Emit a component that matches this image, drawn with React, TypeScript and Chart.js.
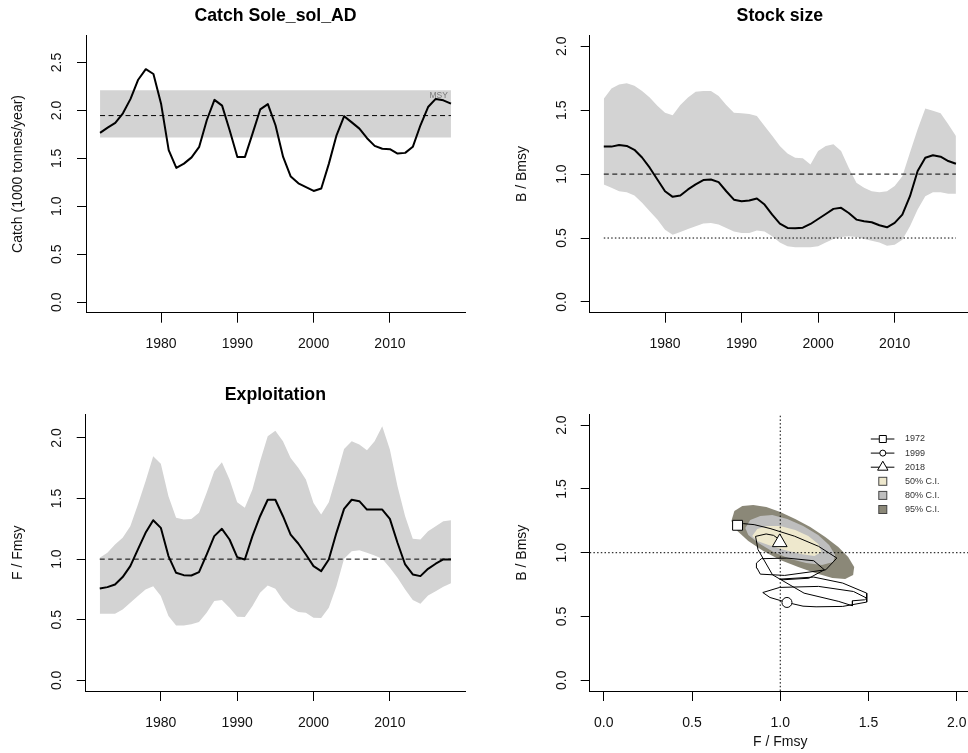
import { useEffect, useRef } from 'react';
import { Chart, registerables } from 'chart.js';

Chart.register(...registerables);

const FONT = "'Liberation Sans', Arial, Helvetica, sans-serif";
const INK = '#111';
const BAND = '#D3D3D3';

// ---- data ----
const years = [
  1972, 1973, 1974, 1975, 1976, 1977, 1978, 1979, 1980, 1981,
  1982, 1983, 1984, 1985, 1986, 1987, 1988, 1989, 1990, 1991,
  1992, 1993, 1994, 1995, 1996, 1997, 1998, 1999, 2000, 2001,
  2002, 2003, 2004, 2005, 2006, 2007, 2008, 2009, 2010, 2011,
  2012, 2013, 2014, 2015, 2016, 2017, 2018,
];

// catch, 1000 tonnes per year
const catchK = [
  1.766, 1.82, 1.87, 1.97, 2.12, 2.32, 2.43, 2.38, 2.07, 1.585,
  1.4, 1.445, 1.51, 1.62, 1.9, 2.11, 2.05, 1.79, 1.515, 1.515,
  1.76, 2.01, 2.065, 1.845, 1.515, 1.31, 1.24, 1.2, 1.16, 1.185,
  1.445, 1.74, 1.94, 1.875, 1.81, 1.71, 1.63, 1.6, 1.595, 1.55,
  1.557, 1.62, 1.845, 2.035, 2.12, 2.105, 2.07,
];
const msyCatch = 1.946;
const msyCatchLo = 1.717;
const msyCatchHi = 2.21;

// biomass relative to Bmsy
const bRel = [
  1.215, 1.215, 1.228, 1.22, 1.19, 1.13, 1.05, 0.958, 0.866, 0.822,
  0.832, 0.88, 0.919, 0.953, 0.958, 0.937, 0.866, 0.8, 0.788, 0.793,
  0.809, 0.762, 0.683, 0.613, 0.579, 0.576, 0.581, 0.61, 0.649, 0.688,
  0.728, 0.736, 0.696, 0.644, 0.631, 0.623, 0.6, 0.584, 0.618, 0.683,
  0.827, 1.024, 1.128, 1.147, 1.136, 1.102, 1.081,
];
const bRelHi = [
  1.59, 1.67, 1.7, 1.71, 1.69, 1.65, 1.6, 1.534, 1.48, 1.46,
  1.54, 1.6, 1.644, 1.65, 1.65, 1.61, 1.54, 1.48, 1.476, 1.47,
  1.455, 1.377, 1.3, 1.22, 1.162, 1.128, 1.123, 1.076, 1.18, 1.22,
  1.233, 1.18, 1.05, 0.932, 0.893, 0.866, 0.859, 0.866, 0.906, 0.984,
  1.168, 1.35, 1.513, 1.495, 1.476, 1.39, 1.298,
];
const bRelLo = [
  0.919, 0.893, 0.866, 0.859, 0.832, 0.775, 0.71, 0.644, 0.565, 0.526,
  0.547, 0.57, 0.592, 0.613, 0.618, 0.605, 0.579, 0.552, 0.539, 0.539,
  0.558, 0.552, 0.513, 0.466, 0.435, 0.427, 0.427, 0.427, 0.435, 0.466,
  0.492, 0.508, 0.513, 0.508, 0.492, 0.479, 0.466, 0.44, 0.448, 0.487,
  0.592, 0.723, 0.827, 0.859, 0.859, 0.846, 0.846,
];
const bTarget = 1.0;
const bLimit = 0.5;

// fishing mortality relative to Fmsy
const fRel = [
  0.758, 0.769, 0.791, 0.852, 0.942, 1.08, 1.217, 1.321, 1.258, 1.025,
  0.887, 0.868, 0.865, 0.893, 1.038, 1.19, 1.25, 1.162, 1.016, 0.997,
  1.19, 1.354, 1.49, 1.49, 1.354, 1.203, 1.129, 1.038, 0.942, 0.901,
  0.997, 1.217, 1.415, 1.49, 1.478, 1.409, 1.409, 1.409, 1.332, 1.135,
  0.956, 0.874, 0.86, 0.92, 0.962, 0.997, 0.997,
];
const fRelHi = [
  1.011, 1.052, 1.121, 1.176, 1.272, 1.45, 1.643, 1.849, 1.788, 1.519,
  1.341, 1.327, 1.332, 1.382, 1.547, 1.725, 1.8, 1.657, 1.47, 1.423,
  1.574, 1.808, 2.014, 2.06, 1.973, 1.835, 1.753, 1.657, 1.464, 1.368,
  1.47, 1.684, 1.909, 1.973, 1.945, 1.898, 1.973, 2.096, 1.904, 1.602,
  1.354, 1.168, 1.162, 1.231, 1.272, 1.313, 1.321,
];
const fRelLo = [
  0.549, 0.549, 0.549, 0.585, 0.64, 0.695, 0.75, 0.777, 0.695, 0.53,
  0.453, 0.453, 0.462, 0.481, 0.558, 0.654, 0.662, 0.599, 0.525, 0.522,
  0.613, 0.723, 0.783, 0.755, 0.662, 0.599, 0.563, 0.558, 0.516, 0.514,
  0.599, 0.777, 1.003, 1.066, 1.074, 1.052, 1.03, 1.003, 0.929, 0.846,
  0.75, 0.662, 0.632, 0.7, 0.736, 0.772, 0.8,
];
const fTarget = 1.0;

// kobe plot: highlighted year and confidence regions of the final year
const markYear = 1999;
const ci50F = [0.841, 0.87, 0.926, 1.0, 1.085, 1.159, 1.216, 1.233, 1.194, 1.115, 1.024, 0.933, 0.87];
const ci50B = [1.131, 1.186, 1.209, 1.209, 1.178, 1.131, 1.068, 1.005, 0.974, 0.99, 1.021, 1.06, 1.092];
const ci80F = [0.802, 0.83, 0.887, 0.955, 1.04, 1.13, 1.215, 1.277, 1.311, 1.3, 1.237, 1.147, 1.057, 0.961, 0.876, 0.819];
const ci80B = [1.194, 1.256, 1.288, 1.295, 1.264, 1.209, 1.139, 1.06, 0.982, 0.927, 0.904, 0.919, 0.95, 1.005, 1.076, 1.138];
const ci95F = [0.723, 0.74, 0.785, 0.847, 0.921, 1.0, 1.085, 1.17, 1.255, 1.329, 1.385, 1.419, 1.413, 1.368, 1.295, 1.198, 1.102, 1.0, 0.904, 0.819, 0.757];
const ci95B = [1.248, 1.327, 1.366, 1.374, 1.358, 1.319, 1.264, 1.201, 1.123, 1.045, 0.966, 0.888, 0.825, 0.794, 0.802, 0.841, 0.888, 0.943, 1.013, 1.092, 1.17];
const ciNames = ['50% C.I.', '80% C.I.', '95% C.I.'];
const ciColors = ['#EEE8CD', '#BEBEBE', '#8B8878'];

// axis ticks and ranges
const yearTicks = [1980, 1990, 2000, 2010];
const catchTicks = [0, 0.5, 1, 1.5, 2, 2.5];
const ratioTicks = [0, 0.5, 1, 1.5, 2];
const yearMin = 1970.16;
const yearMax = 2019.84;
const kobeFMin = -0.08;
const kobeFMax = 2.08;
const kobeBMin = -0.084;
const kobeBMax = 2.085;

// ---- helpers ----
const pts = (xs: number[], ys: number[]) => xs.map((x, i) => ({ x, y: ys[i] }));
const flat = (v: number) => [
  { x: years[0], y: v },
  { x: years[years.length - 1], y: v },
];
const ring = (xs: number[], ys: number[]) => {
  const p = pts(xs, ys);
  p.push({ ...p[0] });
  return p;
};

type AxisOpts = {
  min: number;
  max: number;
  ticks: number[];
  size: number;
  tickPad: number;
  digits: number;
  title?: string;
  titlePad?: number;
};

function axis(kind: 'x' | 'y', o: AxisOpts) {
  const isY = kind === 'y';
  return {
    type: 'linear',
    position: isY ? 'left' : 'bottom',
    min: o.min,
    max: o.max,
    afterBuildTicks: (s: any) => {
      s.ticks = o.ticks.map((v) => ({ value: v }));
    },
    afterFit: (s: any) => {
      if (isY) s.width = o.size;
      else s.height = o.size;
    },
    grid: {
      display: true,
      drawOnChartArea: false,
      drawTicks: true,
      tickLength: isY ? 9 : 10,
      tickColor: '#000',
      tickWidth: 1,
    },
    border: { display: true, color: '#000', width: 1 },
    ticks: {
      color: INK,
      font: { family: FONT, size: 14 },
      padding: o.tickPad,
      autoSkip: false,
      minRotation: isY ? 90 : 0,
      maxRotation: isY ? 90 : 0,
      crossAlign: isY ? 'center' : 'near',
      callback: (v: any) => (o.digits ? Number(v).toFixed(o.digits) : String(v)),
    },
    title: o.title
      ? {
          display: true,
          text: o.title,
          color: INK,
          font: { family: FONT, size: 14 },
          padding: { top: o.titlePad, bottom: o.titlePad },
        }
      : { display: false },
  };
}

function heading(text: string, top: number, bottom: number) {
  return {
    display: true,
    text,
    fullSize: false,
    color: '#000',
    font: { family: FONT, size: 17.7, weight: 'bold' },
    padding: { top, bottom },
  };
}

const lineBase = { pointRadius: 0, tension: 0, fill: false };
const medianLine = (data: any) => ({
  ...lineBase,
  data,
  borderColor: '#000',
  borderWidth: 2,
  borderJoinStyle: 'round',
  order: 0,
});
const refLine = (data: any, dash: number[], order: number) => ({
  ...lineBase,
  data,
  borderColor: '#000',
  borderWidth: 1,
  borderDash: dash,
  order,
});
const bandPair = (hi: any, lo: any) => [
  { ...lineBase, data: hi, borderWidth: 0, borderColor: 'rgba(0,0,0,0)', backgroundColor: BAND, fill: '+1', order: 5 },
  { ...lineBase, data: lo, borderWidth: 0, borderColor: 'rgba(0,0,0,0)', order: 6 },
];

const DASH = [5, 3.5];
const DOT = [1.5, 2.2];

// "MSY" tag written over the catch band, under the catch line
const msyTag = {
  id: 'msyTag',
  afterDatasetDraw(chart: any, args: any) {
    if (args.index !== 2) return;
    const { ctx, scales } = chart;
    ctx.save();
    ctx.font = `8.5px ${FONT}`;
    ctx.fillStyle = '#7a7a7a';
    ctx.textAlign = 'right';
    ctx.textBaseline = 'middle';
    ctx.fillText(
      'MSY',
      scales.x.getPixelForValue(years[years.length - 1]) - 3,
      scales.y.getPixelForValue(msyCatchHi) + 5,
    );
    ctx.restore();
  },
};

// key of the kobe plot
const kobeKey = {
  id: 'kobeKey',
  afterDraw(chart: any) {
    const { ctx, chartArea } = chart;
    const sx = chartArea.right - 88;
    const tx = sx + 22.3;
    const y0 = chartArea.top + 24.7;
    const dy = 14.1;
    const labels = [String(years[0]), String(markYear), String(years[years.length - 1]), ...ciNames];
    ctx.save();
    ctx.font = `9px ${FONT}`;
    ctx.textBaseline = 'middle';
    ctx.textAlign = 'left';
    labels.forEach((label, i) => {
      const yy = y0 + i * dy;
      ctx.lineWidth = 1;
      ctx.strokeStyle = '#000';
      if (i < 3) {
        ctx.beginPath();
        ctx.moveTo(sx - 12, yy);
        ctx.lineTo(sx + 11.6, yy);
        ctx.stroke();
        ctx.fillStyle = '#fff';
        ctx.beginPath();
        if (i === 0) {
          ctx.rect(sx - 3.5, yy - 3.5, 7, 7);
        } else if (i === 1) {
          ctx.arc(sx, yy, 3, 0, Math.PI * 2);
        } else {
          const r = 6;
          ctx.moveTo(sx, yy - r);
          ctx.lineTo(sx + r * 0.866, yy + r / 2);
          ctx.lineTo(sx - r * 0.866, yy + r / 2);
          ctx.closePath();
        }
        ctx.fill();
        ctx.stroke();
      } else {
        ctx.fillStyle = ciColors[i - 3];
        ctx.strokeStyle = '#444';
        ctx.fillRect(sx - 4, yy - 4, 8, 8);
        ctx.strokeRect(sx - 4, yy - 4, 8, 8);
      }
      ctx.fillStyle = '#333';
      ctx.fillText(label, tx, yy);
    });
    ctx.restore();
  },
};

const common = {
  type: 'line',
  options: {
    responsive: false,
    animation: false,
    events: [],
  },
};

function catchConfig(): any {
  return {
    ...common,
    data: {
      datasets: [
        medianLine(pts(years, catchK)),
        refLine(flat(msyCatch), DASH, 1),
        ...bandPair(flat(msyCatchHi), flat(msyCatchLo)),
      ],
    },
    options: {
      ...common.options,
      layout: { padding: { left: 0, right: 19, top: 0, bottom: 0 } },
      plugins: {
        legend: { display: false },
        tooltip: { enabled: false },
        title: heading('Catch Sole_sol_AD', 5.5, 8.5),
      },
      scales: {
        x: axis('x', { min: yearMin, max: yearMax, ticks: yearTicks, size: 63.3, tickPad: 12.9, digits: 0 }),
        y: axis('y', {
          min: -0.11, max: 2.784, ticks: catchTicks, size: 86, tickPad: 10.3, digits: 1,
          title: 'Catch (1000 tonnes/year)', titlePad: 9.5,
        }),
      },
    },
    plugins: [msyTag],
  };
}

function stockConfig(): any {
  return {
    ...common,
    data: {
      datasets: [
        medianLine(pts(years, bRel)),
        refLine(flat(bTarget), DASH, 1),
        refLine(flat(bLimit), DOT, 2),
        ...bandPair(pts(years, bRelHi), pts(years, bRelLo)),
      ],
    },
    options: {
      ...common.options,
      layout: { padding: { left: 0, right: 14, top: 0, bottom: 0 } },
      plugins: {
        legend: { display: false },
        tooltip: { enabled: false },
        title: heading('Stock size', 5.5, 8.5),
      },
      scales: {
        x: axis('x', { min: yearMin, max: yearMax, ticks: yearTicks, size: 63.3, tickPad: 12.9, digits: 0 }),
        y: axis('y', {
          min: -0.084, max: 2.086, ticks: ratioTicks, size: 105.7, tickPad: 8.7, digits: 1,
          title: 'B / Bmsy', titlePad: 29.5,
        }),
      },
    },
  };
}

function exploitConfig(): any {
  return {
    ...common,
    data: {
      datasets: [
        medianLine(pts(years, fRel)),
        refLine(flat(fTarget), DASH, 1),
        ...bandPair(pts(years, fRelHi), pts(years, fRelLo)),
      ],
    },
    options: {
      ...common.options,
      layout: { padding: { left: 0, right: 19, top: 0, bottom: 0 } },
      plugins: {
        legend: { display: false },
        tooltip: { enabled: false },
        title: heading('Exploitation', 8.5, 8.8),
      },
      scales: {
        x: axis('x', { min: yearMin, max: yearMax, ticks: yearTicks, size: 62, tickPad: 13.3, digits: 0 }),
        y: axis('y', {
          min: -0.088, max: 2.193, ticks: ratioTicks, size: 85.7, tickPad: 10, digits: 1,
          title: 'F / Fmsy', titlePad: 9.5,
        }),
      },
    },
  };
}

function kobeConfig(): any {
  const last = years.length - 1;
  const mark = years.indexOf(markYear);
  const marker = (i: number, style: string, radius: number) => ({
    data: [{ x: fRel[i], y: bRel[i] }],
    showLine: false,
    pointStyle: style,
    pointRadius: radius,
    pointBackgroundColor: '#fff',
    pointBorderColor: '#000',
    pointBorderWidth: 1,
    order: 0,
  });
  const region = (xs: number[], ys: number[], color: string, order: number) => ({
    ...lineBase,
    data: ring(xs, ys),
    borderWidth: 0,
    borderColor: 'rgba(0,0,0,0)',
    backgroundColor: color,
    fill: 'shape',
    order,
  });
  return {
    ...common,
    data: {
      datasets: [
        marker(0, 'rect', 7),
        marker(mark, 'circle', 5),
        marker(last, 'triangle', 8.5),
        { ...lineBase, data: pts(fRel, bRel), borderColor: '#000', borderWidth: 1, order: 2 },
        refLine([{ x: fTarget, y: kobeBMin }, { x: fTarget, y: kobeBMax }], DOT, 3),
        refLine([{ x: kobeFMin, y: bTarget }, { x: kobeFMax, y: bTarget }], DOT, 3),
        region(ci50F, ci50B, ciColors[0], 5),
        region(ci80F, ci80B, ciColors[1], 6),
        region(ci95F, ci95B, ciColors[2], 7),
      ],
    },
    options: {
      ...common.options,
      layout: { padding: { left: 0, right: 13.2, top: 38.3, bottom: 0 } },
      plugins: {
        legend: { display: false },
        tooltip: { enabled: false },
        title: { display: false },
      },
      scales: {
        x: axis('x', {
          min: kobeFMin, max: kobeFMax, ticks: ratioTicks, size: 62, tickPad: 13.3, digits: 1,
          title: 'F / Fmsy', titlePad: 2.8,
        }),
        y: axis('y', {
          min: kobeBMin, max: kobeBMax, ticks: ratioTicks, size: 105.7, tickPad: 8.7, digits: 1,
          title: 'B / Bmsy', titlePad: 29.5,
        }),
      },
    },
    plugins: [kobeKey],
  };
}

Chart.defaults.font.family = FONT;
Chart.defaults.color = INK;

export default function App() {
  const c1 = useRef<HTMLCanvasElement>(null);
  const c2 = useRef<HTMLCanvasElement>(null);
  const c3 = useRef<HTMLCanvasElement>(null);
  const c4 = useRef<HTMLCanvasElement>(null);

  useEffect(() => {
    const charts = [
      new Chart(c1.current as HTMLCanvasElement, catchConfig()),
      new Chart(c2.current as HTMLCanvasElement, stockConfig()),
      new Chart(c3.current as HTMLCanvasElement, exploitConfig()),
      new Chart(c4.current as HTMLCanvasElement, kobeConfig()),
    ];
    return () => charts.forEach((c) => c.destroy());
  }, []);

  const place = (left: number, top: number, w: number, h: number) => ({
    position: 'absolute' as const,
    left,
    top,
    width: w,
    height: h,
  });

  return (
    <div
      style={{
        position: 'fixed',
        left: 0,
        top: 0,
        width: 968,
        height: 753,
        overflow: 'hidden',
        background: '#fff',
      }}
    >
      <canvas ref={c1} width={484} height={376} style={place(0, 0, 484, 376)} />
      <canvas ref={c2} width={500} height={376} style={place(484, 0, 500, 376)} />
      <canvas ref={c3} width={484} height={377} style={place(0, 376, 484, 377)} />
      <canvas ref={c4} width={500} height={377} style={place(484, 376, 500, 377)} />
    </div>
  );
}
